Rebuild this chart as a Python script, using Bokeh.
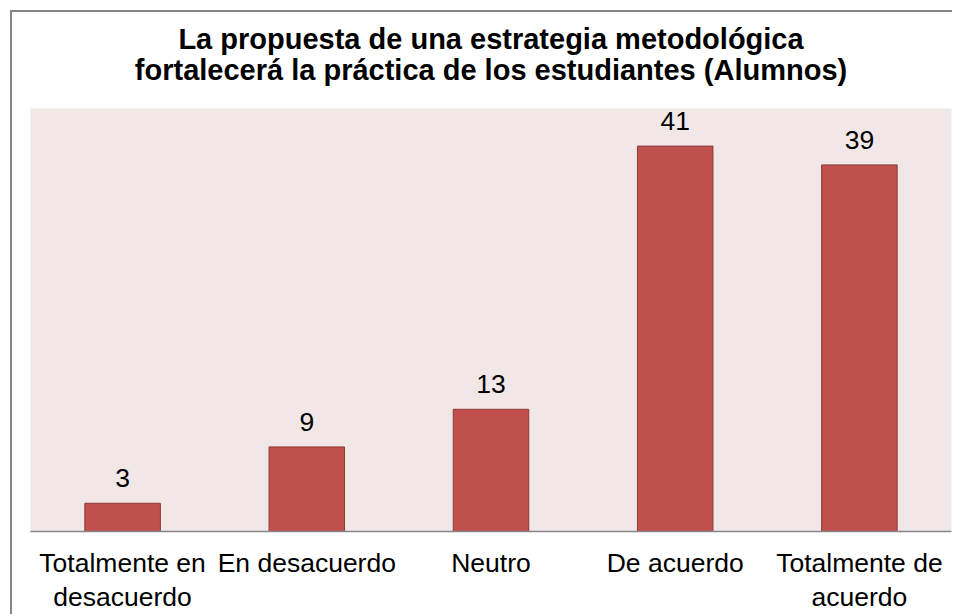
from bokeh.plotting import figure
from bokeh.models import ColumnDataSource, FactorRange, Range1d, Title
from bokeh.core.properties import value
from bokeh.embed import file_html
from bokeh.resources import INLINE

# ---- data ----
categories = ["Totalmente en\ndesacuerdo", "En desacuerdo", "Neutro", "De acuerdo", "Totalmente de\nacuerdo"]
counts = [3, 9, 13, 41, 39]
count_labels = [str(v) for v in counts]
title_line1 = "La propuesta de una estrategia metodológica"
title_line2 = "fortalecerá la práctica de los estudiantes (Alumnos)"

FONT = "Liberation Sans"

src = ColumnDataSource(data=dict(cat=categories, val=counts, lab=count_labels))

p = figure(
    width=942, height=604,
    x_range=FactorRange(factors=categories, range_padding=0),
    y_range=Range1d(0, 45),
    y_axis_location=None,
    output_backend="svg", toolbar_location=None,
    min_border_left=18, min_border_right=3, min_border_top=96, min_border_bottom=85,
)
p.title = None
p.styles = {"margin-left": "10px", "margin-top": "10px",
            "border-left": "2px solid #868686", "border-top": "2px solid #868686"}
p.background_fill_color = "#F2E7E7"
p.border_fill_color = "white"
p.outline_line_color = None
p.xgrid.grid_line_color = None
p.ygrid.grid_line_color = None

for txt, so in ((title_line2, 46), (title_line1, -52)):
    p.add_layout(Title(text=txt, align="center", text_font=FONT, text_font_size="29px",
                       text_font_style="bold", text_color="black", standoff=so), "above")

p.vbar(x="cat", top="val", width=0.41, source=src,
       fill_color="#C0504D", line_color="#8C3A38", line_width=1)

p.text(x="cat", y="val", text="lab", source=src,
       text_align="center", text_baseline="alphabetic", y_offset=-25,
       text_font=value(FONT), text_font_size="26.5px", text_color="black")

ax = p.xaxis[0]
ax.axis_line_color = "#868686"
ax.axis_line_width = 1.5
ax.major_tick_line_color = None
ax.minor_tick_line_color = None
ax.major_tick_out = 0
ax.major_tick_in = 0
ax.major_label_standoff = 16
ax.major_label_text_font = FONT
ax.major_label_text_font_size = "26.5px"
ax.major_label_text_line_height = 1.15
ax.major_label_text_color = "black"

open("out.html", "w").write(file_html(p, INLINE))
